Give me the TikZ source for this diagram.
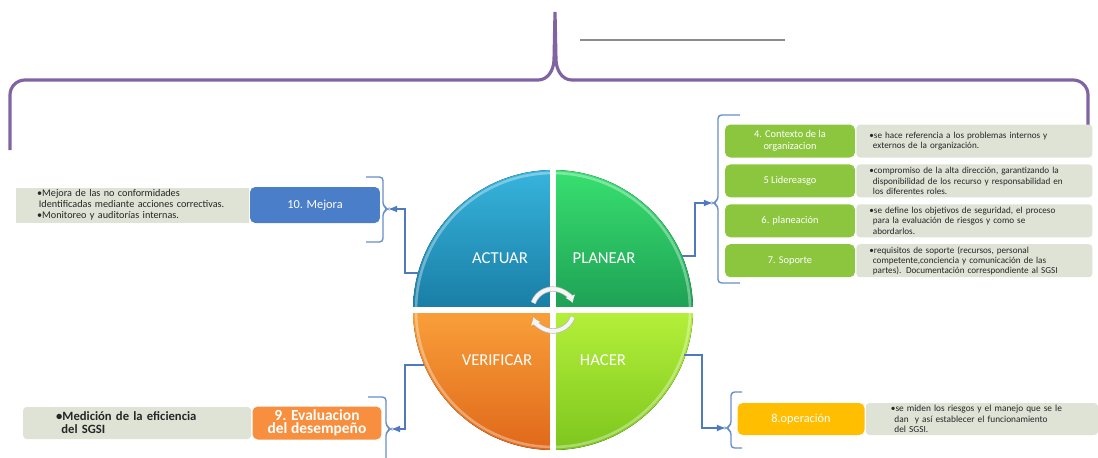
\documentclass[tikz,border=0pt]{standalone}
\usepackage{fontspec}
\setmainfont{Carlito}
\usepackage{tikz}
\usetikzlibrary{arrows, arrows.meta, positioning}

\definecolor{bracePurple}{RGB}{128,100,162}
\definecolor{linkBlue}{RGB}{79,122,190}
\definecolor{noteGray}{RGB}{222,227,214}
\definecolor{stageGreen}{RGB}{140,198,63}
\definecolor{mejoraBlue}{RGB}{74,126,200}
\definecolor{evalOrange}{RGB}{247,143,62}
\definecolor{operGold}{RGB}{255,190,0}

\tikzstyle{stage} = [rectangle, rounded corners=3pt, minimum width=2.6cm, minimum height=0.66cm, text centered, align=center, text=white, fill=stageGreen, inner sep=1pt, font=\fontsize{5.9}{6.6}\selectfont]
\tikzstyle{note} = [rectangle, rounded corners=2pt, minimum height=0.66cm, fill=noteGray, text=black!85, align=left, inner ysep=1pt, font=\fontsize{5.2}{5.8}\selectfont]
\tikzstyle{quarter} = [text=white, font=\fontsize{9.5}{11}\selectfont]
\tikzstyle{arrow} = [thick,->,>=latex, draw=linkBlue]
\tikzstyle{bracket} = [thick, draw=linkBlue!85, rounded corners=2pt]
\tikzstyle{turnArrow} = [line width=2.2pt, draw=white!92!gray, -{Latex[length=4pt,width=6pt]}, preaction={draw=gray!55, line width=3pt}]

\begin{document}
\begin{tikzpicture}[x=0.02cm, y=0.02cm, thick]
\useasboundingbox (0,0) rectangle (1098,-457);
% Top brace and rule
\draw[draw=gray!90, line width=1.2pt] (580,-40) -- (785,-40);
\draw[draw=bracePurple, line width=1.8pt] (10,-150) -- (10,-95) to[out=90,in=180] (25,-80) -- (538,-80)
  to[out=0,in=-92] (554,-60) -- (555,-12) -- (556,-60) to[out=-88,in=180] (572,-80) -- (1073,-80)
  to[out=0,in=90] (1088,-95) -- (1088,-150);

% PDCA circle
\coordinate (center) at (553,-310);
\fill[top color={rgb,255:red,55;green,180;blue,220}, bottom color={rgb,255:red,25;green,125;blue,165}]
  (center) -- ++(180:2.8cm) arc[start angle=180, end angle=90, radius=2.8cm] -- cycle;
\fill[top color={rgb,255:red,56;green,224;blue,112}, bottom color={rgb,255:red,30;green,160;blue,85}]
  (center) -- ++(90:2.8cm) arc[start angle=90, end angle=0, radius=2.8cm] -- cycle;
\fill[top color={rgb,255:red,249;green,160;blue,58}, bottom color={rgb,255:red,224;green,104;blue,26}]
  (center) -- ++(180:2.8cm) arc[start angle=180, end angle=270, radius=2.8cm] -- cycle;
\fill[top color={rgb,255:red,181;green,240;blue,58}, bottom color={rgb,255:red,125;green,198;blue,30}]
  (center) -- ++(270:2.8cm) arc[start angle=270, end angle=360, radius=2.8cm] -- cycle;
\draw[white, opacity=0.35, line width=1.5pt] (center) circle[radius=2.74cm];
\draw[white, line width=0.12cm] (553,-165) -- (553,-455);
\draw[white, line width=0.12cm] (408,-310) -- (698,-310);
\draw[turnArrow] (center) ++(160:0.42cm) arc[start angle=160, end angle=20, radius=0.42cm];
\draw[turnArrow] (center) ++(-20:0.42cm) arc[start angle=-20, end angle=-160, radius=0.42cm];
\node (actuar) [quarter] at (500,-258) {ACTUAR};
\node (planear) [quarter] at (604,-258) {PLANEAR};
\node (verificar) [quarter] at (497,-360) {VERIFICAR};
\node (hacer) [quarter] at (603,-360) {HACER};

% Define nodes
\node (contexto) [stage] at (790,-141) {4. Contexto de la\\organizacion};
\node (liderazgo) [stage, below=0.11cm of contexto] {5 Lidereasgo};
\node (planeacion) [stage, below=0.11cm of liderazgo] {6. planeación};
\node (soporte) [stage, below=0.11cm of planeacion] {7. Soporte};
\node (contextoNote) [note, text width=4.2cm, inner xsep=0.26cm, right=0pt of contexto] {•se hace referencia a los problemas internos y\\\hspace{2pt}externos de la organización.};
\node (liderazgoNote) [note, text width=4.2cm, inner xsep=0.26cm, right=0pt of liderazgo] {•compromiso de la alta dirección, garantizando la\\\hspace{2pt}disponibilidad de los recurso y responsabilidad en\\\hspace{2pt}los diferentes roles.};
\node (planeacionNote) [note, text width=4.2cm, inner xsep=0.26cm, right=0pt of planeacion] {•se define los objetivos de seguridad, el proceso\\\hspace{2pt}para la evaluación de riesgos y como se\\\hspace{2pt}abordarlos.};
\node (soporteNote) [note, text width=4.2cm, inner xsep=0.26cm, right=0pt of soporte] {•requisitos de soporte (recursos, personal\\\hspace{2pt}competente,conciencia y comunicación de las\\\hspace{2pt}partes). Documentación correspondiente al SGSI};

\node (mejora) [stage, fill=mejoraBlue, minimum height=0.72cm, font=\fontsize{7}{8}\selectfont] at (315,-205) {10. Mejora};
\node (mejoraNote) [note, rounded corners=0pt, left=0pt of mejora, text width=3.8cm, inner xsep=0.43cm, minimum height=0.7cm, font=\fontsize{5.8}{6.2}\selectfont] {•Mejora de las no conformidades\\\hspace{1pt}Identificadas mediante acciones correctivas.\\•Monitoreo y auditorías internas.};

\node (evaluacion) [stage, fill=evalOrange, minimum width=2.58cm, minimum height=0.66cm, font=\bfseries\fontsize{8.8}{7.6}\selectfont] at (317,-423) {9. Evaluacion\\del desempeño};
\node (evalNote) [note, left=0pt of evaluacion, text width=3.24cm, inner xsep=0.66cm, minimum height=0.64cm, font=\bfseries\fontsize{7.2}{7.4}\selectfont] {•Medición de la eficiencia\\\hspace{3pt}del SGSI};

\node (operacion) [stage, fill=operGold, minimum width=2.54cm, minimum height=0.64cm, font=\fontsize{7}{8}\selectfont] at (801,-419) {8.operación};
\node (operNote) [note, right=0pt of operacion, text width=3.64cm, inner xsep=0.5cm, minimum height=0.64cm, font=\fontsize{5.3}{5.9}\selectfont] {•se miden los riesgos y el manejo que se le\\\hspace{2pt}dan \ y así establecer el funcionamiento\\\hspace{2pt}del SGSI.};

% Brackets round each group
\coordinate (planBrace) at (713,-203);
\coordinate (mejoraBrace) at (388,-209);
\coordinate (evalBrace) at (391,-429);
\coordinate (operBrace) at (726,-428);
\draw[bracket] (740,-115) -- (718,-115) -- (718,-200) -- (planBrace) -- (718,-206) -- (718,-283) -- (740,-283);
\draw[bracket] (366,-177) -- (383,-177) -- (383,-206) -- (mejoraBrace) -- (383,-212) -- (383,-242) -- (366,-242);
\draw[bracket] (368,-397) -- (386,-397) -- (386,-426) -- (evalBrace) -- (386,-432) -- (386,-465);
\draw[bracket] (742,-392) -- (731,-392) -- (731,-425) -- (operBrace) -- (731,-431) -- (731,-448) -- (742,-448);

% Connect nodes with arrows
\coordinate (planearOut) at (682,-256);
\coordinate (hacerOut) at (684,-355);
\coordinate (actuarOut) at (418,-273);
\coordinate (verificarOut) at (424,-365);
\draw [arrow] (planearOut) -- ++(13,0) |- (planBrace);
\draw [arrow] (hacerOut) -- ++(18,0) |- (operBrace);
\draw [arrow] (actuarOut) -- ++(-13,0) |- (mejoraBrace);
\draw [arrow] (verificarOut) -- ++(-19,0) |- (evalBrace);
\end{tikzpicture}
\end{document}
